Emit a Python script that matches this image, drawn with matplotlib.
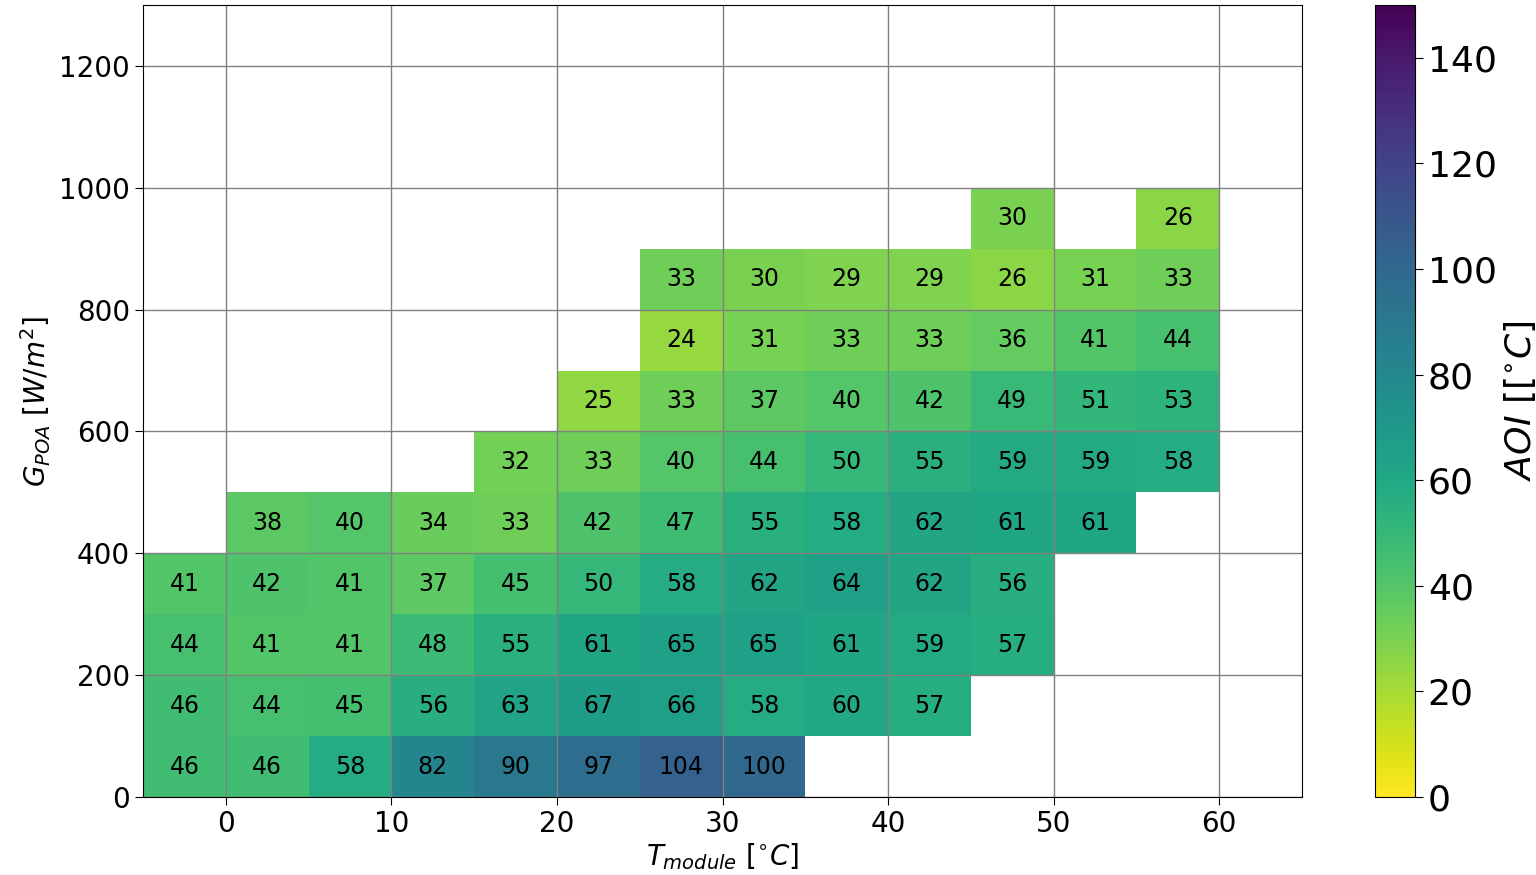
import numpy as np
import matplotlib
matplotlib.use("Agg")
import matplotlib.pyplot as plt

# bin edges: module temperature (5 degC) and plane-of-array irradiance (100 W/m2)
t_edges = np.arange(-5, 61, 5)
g_edges = np.arange(0, 1001, 100)

nan = np.nan
# mean AOI per bin, rows = irradiance bins from 0-100 upwards
aoi_0 = [46, 46, 58, 82, 90, 97, 104, 100, nan, nan, nan, nan, nan]
aoi_100 = [46, 44, 45, 56, 63, 67, 66, 58, 60, 57, nan, nan, nan]
aoi_200 = [44, 41, 41, 48, 55, 61, 65, 65, 61, 59, 57, nan, nan]
aoi_300 = [41, 42, 41, 37, 45, 50, 58, 62, 64, 62, 56, nan, nan]
aoi_400 = [nan, 38, 40, 34, 33, 42, 47, 55, 58, 62, 61, 61, nan]
aoi_500 = [nan, nan, nan, nan, 32, 33, 40, 44, 50, 55, 59, 59, 58]
aoi_600 = [nan, nan, nan, nan, nan, 25, 33, 37, 40, 42, 49, 51, 53]
aoi_700 = [nan, nan, nan, nan, nan, nan, 24, 31, 33, 33, 36, 41, 44]
aoi_800 = [nan, nan, nan, nan, nan, nan, 33, 30, 29, 29, 26, 31, 33]
aoi_900 = [nan, nan, nan, nan, nan, nan, nan, nan, nan, nan, 30, nan, 26]

aoi = np.array([aoi_0, aoi_100, aoi_200, aoi_300, aoi_400,
                aoi_500, aoi_600, aoi_700, aoi_800, aoi_900])

fig = plt.figure(figsize=(15.36, 8.75), dpi=100)
ax = fig.add_axes([0.0931, 0.0891, 0.7546, 0.9052])
cax = fig.add_axes([0.895, 0.0891, 0.026, 0.9052])

mesh = ax.pcolormesh(t_edges, g_edges, np.ma.masked_invalid(aoi),
                     cmap='viridis_r', vmin=0, vmax=150)

t_mid = (t_edges[:-1] + t_edges[1:]) / 2
g_mid = (g_edges[:-1] + g_edges[1:]) / 2
for i in range(len(g_mid)):
    for j in range(len(t_mid)):
        if not np.isnan(aoi[i, j]):
            ax.text(t_mid[j], g_mid[i], '%d' % aoi[i, j],
                    ha='center', va='center', fontsize=17)

ax.set_xlim(-5, 65)
ax.set_ylim(0, 1300)
ax.set_xticks(np.arange(0, 61, 10))
ax.set_yticks(np.arange(0, 1201, 200))
ax.grid(True, color='gray', linewidth=1)
ax.tick_params(labelsize=20, length=6)
ax.set_xlabel(r'$T_{module}$ $[^{\circ}C]$', fontsize=20, labelpad=2)
ax.set_ylabel(r'$G_{POA}$ $[W/m^2]$', fontsize=20)

cb = fig.colorbar(mesh, cax=cax)
cb.set_ticks(np.arange(0, 141, 20))
cb.ax.tick_params(labelsize=26, length=6)
cb.set_label(r'$AOI$ [[$^{\circ}C$]', fontsize=26)

fig.savefig('out.png', dpi=100)
